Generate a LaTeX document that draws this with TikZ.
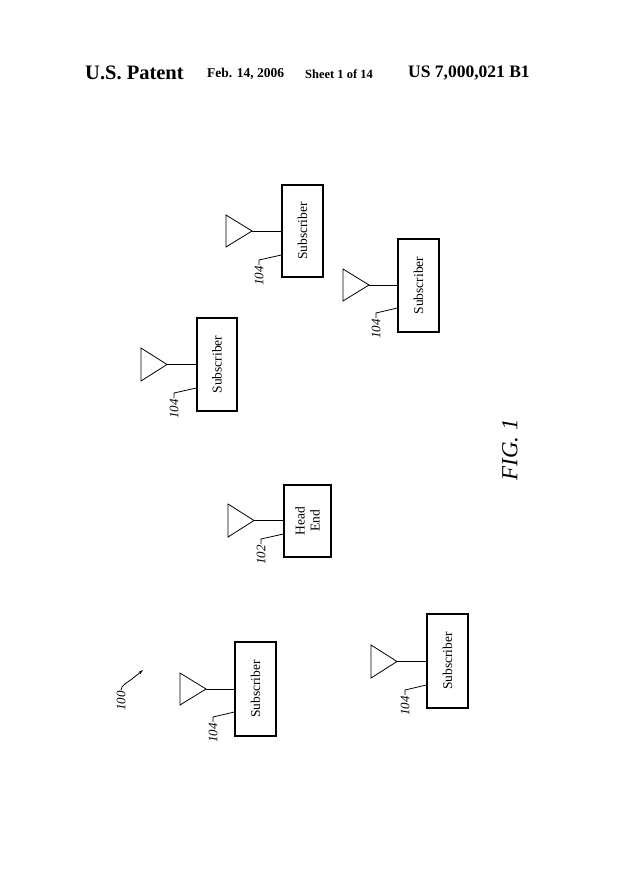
\documentclass[tikz,border=0pt]{standalone}
\usepackage{fontspec}
\setmainfont{Liberation Serif}
\usetikzlibrary{arrows.meta}
\begin{document}
\begin{tikzpicture}[x=1pt,y=-1pt,
  box/.style={draw,line width=1.3pt,inner sep=0pt},
  lbl/.style={rotate=90,font=\fontsize{13.5}{15}\selectfont,align=center},
  ref/.style={rotate=90,font=\itshape\fontsize{13}{14}\selectfont,anchor=east,inner sep=1pt},
  ln/.style={line width=0.8pt}]
\useasboundingbox (0,0) rectangle (625,884);
\node[font=\bfseries\fontsize{20.5}{24}\selectfont,anchor=west,inner sep=0pt] (h1) at (85,73) {U.S. Patent};
\node[font=\bfseries\fontsize{13.5}{16}\selectfont,anchor=west,inner sep=0pt] (h2) at (207,74) {Feb. 14, 2006};
\node[font=\bfseries\fontsize{12.5}{15}\selectfont,anchor=west,inner sep=0pt] (h3) at (305,74) {Sheet 1 of 14};
\node[font=\bfseries\fontsize{17.5}{20}\selectfont,anchor=west,inner sep=0pt] (h4) at (408,73) {US 7,000,021 B1};
\node[rotate=90,font=\itshape\fontsize{23}{26}\selectfont] (fig) at (510,450) {FIG. 1};
\newcommand{\unit}[9]{%
  \node[box,minimum width=#4-#2,minimum height=#5-#3] (#1) at ({(#2+#4)/2},{(#3+#5)/2}) {};
  \node[lbl] (#1t) at (#1.center) {#6};
  \coordinate (#1a) at ({#7+26},{(#8+#9)/2});
  \draw[ln] (#7,#8) -- (#1a) -- (#7,#9) -- cycle;
  \draw[line width=1pt] (#1a) -- (#1a -| #1.west);
}
\unit{s1}{282}{185}{323}{277}{Subscriber}{226}{215}{247}
\unit{s2}{398}{239}{439}{332}{Subscriber}{343}{269}{301}
\unit{s3}{197}{318}{237}{411}{Subscriber}{141}{348}{381}
\unit{he}{284}{485}{331}{557}{Head\\End}{228}{504}{537}
\unit{s4}{235}{642}{276}{736}{Subscriber}{180}{673}{705}
\unit{s5}{427}{614}{468}{708}{Subscriber}{371}{645}{678}
\coordinate (l1) at (259,260); \draw[ln] (s1.west |- 0,255) -- (l1) -- ++(0,5); \node[ref] (r1) at ([yshift=-5]l1) {104};
\coordinate (l2) at (376,313); \draw[ln] (s2.west |- 0,308) -- (l2) -- ++(0,5); \node[ref] (r2) at ([yshift=-5]l2) {104};
\coordinate (l3) at (174,393); \draw[ln] (s3.west |- 0,388) -- (l3) -- ++(0,5); \node[ref] (r3) at ([yshift=-5]l3) {104};
\coordinate (l4) at (261,539); \draw[ln] (he.west |- 0,534) -- (l4) -- ++(0,5); \node[ref] (r4) at ([yshift=-5]l4) {102};
\coordinate (l5) at (213,717); \draw[ln] (s4.west |- 0,712) -- (l5) -- ++(0,5); \node[ref] (r5) at ([yshift=-5]l5) {104};
\coordinate (l6) at (405,690); \draw[ln] (s5.west |- 0,685) -- (l6) -- ++(0,5); \node[ref] (r6) at ([yshift=-5]l6) {104};
\node[ref] (r0) at (121,690) {100};
\coordinate (a0) at (143,670);
\draw[ln,-{Stealth[length=5pt,width=3pt]}] (r0.east) .. controls (122,684) and (124,686) .. (a0);
\end{tikzpicture}
\end{document}
